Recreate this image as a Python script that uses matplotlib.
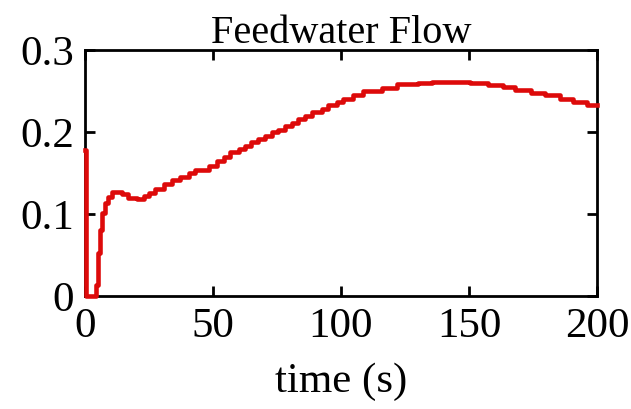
import numpy as np
import matplotlib.pyplot as plt

plt.rcParams['font.family'] = ['Liberation Serif', 'DejaVu Serif']

# step start times (s) and feedwater flow values
t = [0.0, 0.3, 4.3, 5.2, 5.9, 6.5, 7.8, 9.1, 10.4, 11.7, 14.3, 16.9, 20.3, 22.9,
     24.9, 27.5, 30.7, 34.0, 37.2, 40.5, 43.1, 48.3, 51.6, 54.2, 56.8, 60.0,
     62.6, 65.0, 67.7, 70.3, 72.9, 75.5, 78.1, 80.7, 83.3, 85.9, 88.5, 92.4,
     95.0, 98.3, 100.9, 104.8, 108.7, 115.9, 121.7, 130.2, 135.4, 150.4,
     157.6, 163.3, 167.9, 174.4, 179.6, 185.5, 190.7, 195.9, 200.0]
flow = [0.178, 0.0, 0.013, 0.052, 0.080, 0.101, 0.113, 0.121, 0.127, 0.127,
        0.124, 0.1195, 0.118, 0.122, 0.126, 0.130, 0.136, 0.1415, 0.1455,
        0.1496, 0.1537, 0.1585, 0.165, 0.170, 0.1752, 0.179, 0.183, 0.188,
        0.191, 0.1955, 0.1996, 0.203, 0.207, 0.2113, 0.216, 0.220, 0.224,
        0.2285, 0.2325, 0.2366, 0.240, 0.245, 0.250, 0.254, 0.258, 0.260,
        0.2614, 0.2594, 0.2573, 0.2553, 0.2512, 0.248, 0.2447, 0.2406,
        0.2362, 0.2325, 0.2325]

fig = plt.figure(figsize=(6.31, 4.09), dpi=100)
ax = fig.add_axes([85/631, (409-296)/409, 512/631, 246/409])
ax.plot(t, flow, color='#dd0a0a', lw=3.3, drawstyle='steps-post',
        clip_on=False, zorder=3)

ax.set_xlim(0, 200)
ax.set_ylim(0, 0.3)
ax.set_xticks([0, 50, 100, 150, 200])
ax.set_yticks([0, 0.1, 0.2, 0.3])
ax.set_yticklabels(['0', '0.1', '0.2', '0.3'])
ax.tick_params(direction='in', length=7, width=2, top=True, right=True,
               labelsize=31, pad=8)
for s in ax.spines.values():
    s.set_linewidth(2)
ax.set_title('Feedwater Flow', fontsize=29, pad=5)
ax.set_xlabel('time (s)', fontsize=31, labelpad=12)

fig.savefig('out.png', dpi=100)
